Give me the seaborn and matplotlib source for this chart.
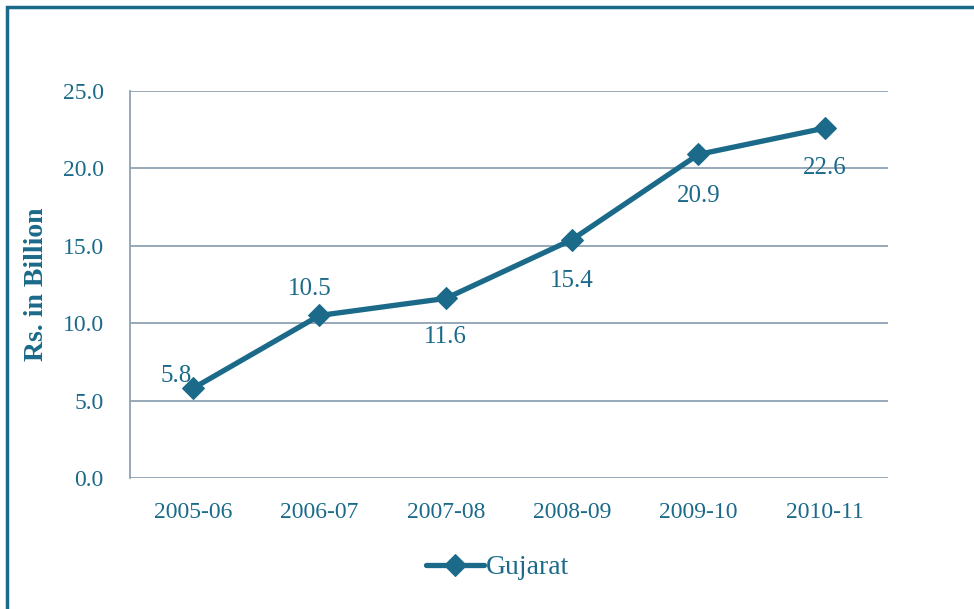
import matplotlib
matplotlib.use("Agg")
import matplotlib.pyplot as plt
import seaborn as sns
import pandas as pd
from matplotlib.patches import Rectangle

years = ['2005-06', '2006-07', '2007-08', '2008-09', '2009-10', '2010-11']
gujarat = [5.8, 10.5, 11.6, 15.4, 20.9, 22.6]
yticks = [0, 5, 10, 15, 20, 25]

df = pd.DataFrame({'year': years, 'value': gujarat})

teal = '#1b6a8a'
grid_col = '#8fa2b3'

sns.set_theme(style='white')
plt.rcParams['font.family'] = ['Liberation Serif', 'DejaVu Serif']

fig = plt.figure(figsize=(9.74, 6.09), dpi=100)
ax = fig.add_axes([0.1335, 0.2151, 0.778, 0.6355])

sns.lineplot(data=df, x='year', y='value', ax=ax, color=teal, linewidth=3.8,
             marker='D', markersize=11, markeredgecolor=teal, label='Gujarat', sort=False)

ax.set_xlim(-0.5, len(years) - 0.5)
ax.set_ylim(0, 25)
ax.set_yticks(yticks)
ax.set_yticklabels(['{:.1f}'.format(v) for v in yticks])
ax.yaxis.grid(True, color=grid_col, linewidth=1.3)
ax.set_axisbelow(True)
for s in ['top', 'right', 'bottom']:
    ax.spines[s].set_visible(False)
ax.spines['left'].set_color(grid_col)
ax.spines['left'].set_linewidth(1.3)
ax.tick_params(axis='both', length=0, labelsize=17, colors=teal)
ax.tick_params(axis='x', pad=17)
ax.tick_params(axis='y', pad=19)
ax.set_xlabel('')
ax.set_ylabel('Rs. in Billion', fontsize=20, fontweight='bold', color=teal, labelpad=10)

# data labels: (dx, dy) offsets in points
offsets = [(-12, 9), (-7, 19), (0, -28), (0, -30), (0, -30), (0, -29)]
for i, (v, off) in enumerate(zip(gujarat, offsets)):
    ax.annotate('{:.1f}'.format(v), (i, v), xytext=off, textcoords='offset points',
                ha='center', va='center', fontsize=18, color=teal)

leg = ax.legend(loc='upper center', bbox_to_anchor=(0.485, -0.17), frameon=False,
                fontsize=20, handlelength=2.1, handletextpad=0.05, borderaxespad=0)
for t in leg.get_texts():
    t.set_color(teal)

fig.patches.append(Rectangle((7 / 974, -0.1), 1.2, 1 - 7 / 609 + 0.1, transform=fig.transFigure,
                             fill=False, edgecolor=teal, linewidth=2.5, figure=fig))

fig.savefig('out.png', dpi=100)
